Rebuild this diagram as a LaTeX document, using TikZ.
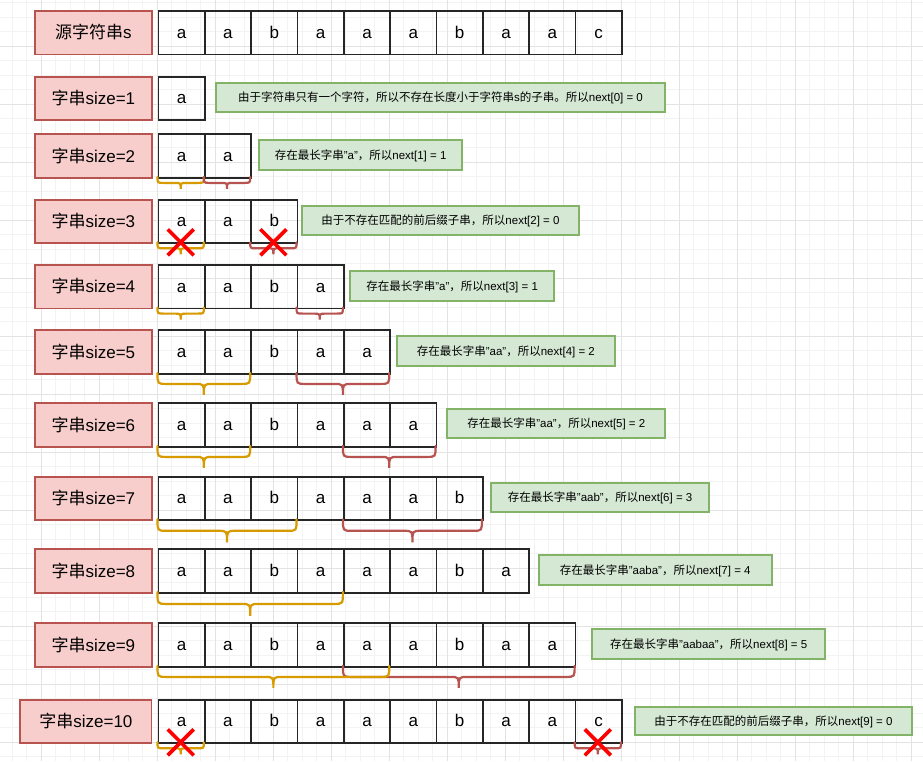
\documentclass[tikz,border=0pt]{standalone}
\usepackage{fontspec}
\setmainfont{Liberation Sans}
\newfontfamily\cjk{Noto Sans CJK SC}
\definecolor{labfill}{HTML}{F8CECC}
\definecolor{labline}{HTML}{B85450}
\definecolor{notefill}{HTML}{D5E8D4}
\definecolor{noteline}{HTML}{82B366}
\definecolor{bro}{HTML}{D79B00}
\definecolor{brr}{HTML}{B85450}
\definecolor{gmin}{HTML}{F3F3F3}
\definecolor{gmaj}{HTML}{E3E3E3}
\tikzset{
 cellbox/.style={draw=black!85, line width=1.8pt, minimum width=46.35pt, minimum height=43.6pt, inner sep=0pt, text height=10.8pt, text depth=0pt, anchor=north west, font=\fontsize{17}{17}\selectfont},
 labbox/.style={draw=labline, fill=labfill, line width=1.8pt, minimum height=43.6pt, inner sep=0pt, text height=12pt, text depth=0pt, anchor=north west, font=\fontsize{17}{17}\selectfont},
 notebox/.style={draw=noteline, fill=notefill, line width=1.8pt, inner sep=0pt, text height=8.5pt, text depth=0pt, font=\fontsize{11.5}{11.5}\selectfont},
 obrace/.style={draw=bro, line width=2.2pt, line cap=round},
 rbrace/.style={draw=brr, line width=2.2pt, line cap=round},
 xmk/.style={draw=red, line width=3.6pt},
 gridminor/.style={draw=gmin, line width=0.9pt},
 gridmajor/.style={draw=gmaj, line width=1pt}
}
\newcommand\nbox[6]{\node[notebox, minimum width={(#4)-(#2)}, minimum height={(#5)-(#3)}] (#1) at ({((#2)+(#4))/2},{((#3)+(#5))/2}) {#6};}
\newcommand\curly[6]{%
 \pgfmathsetmacro\bxa{157.5+46.35*(#3-1)}%
 \pgfmathsetmacro\bxb{157.5+46.35*#4}%
 \pgfmathsetmacro\bxm{(\bxa+\bxb)/2}%
 \pgfmathsetmacro\bya{#2+43.6}%
 \pgfmathsetmacro\byb{\bya+#5/2}%
 \pgfmathsetmacro\byc{\bya+#5}%
 \draw[#1] (\bxa,\bya) .. controls (\bxa,\byb) .. ({\bxa+#6},\byb) -- ({\bxm-#6},\byb) .. controls (\bxm,\byb) .. (\bxm,\byc) .. controls (\bxm,\byb) .. ({\bxm+#6},\byb) -- ({\bxb-#6},\byb) .. controls (\bxb,\byb) .. (\bxb,\bya);
}
\newcommand\xmark[2]{\draw[xmk] ({#1-13},{#2-13}) -- ({#1+13},{#2+13}) ({#1-13},{#2+13}) -- ({#1+13},{#2-13});}
\begin{document}
\begin{tikzpicture}[x=1pt,y=-1pt]
\useasboundingbox (0,0) rectangle (923,761);
\fill[white] (0,0) rectangle (923,761);
% grid
\foreach \i in {0,...,63} {\pgfmathsetmacro\gx{12.3+14.5*\i}\draw[gridminor] (\gx,0) -- (\gx,761);}
\foreach \i in {0,...,52} {\pgfmathsetmacro\gy{2.8+14.5*\i}\draw[gridminor] (0,\gy) -- (923,\gy);}
\foreach \i in {0,...,15} {\pgfmathsetmacro\gx{41.3+58*\i}\draw[gridmajor] (\gx,0) -- (\gx,761);}
\foreach \i in {0,...,12} {\pgfmathsetmacro\gy{46.3+58*\i}\draw[gridmajor] (0,\gy) -- (923,\gy);}
% cells
\foreach \r/\t/\s in {0/10/{a,a,b,a,a,a,b,a,a,c},1/75.7/{a},2/133.3/{a,a},3/198.7/{a,a,b},4/264/{a,a,b,a},5/329.3/{a,a,b,a,a},6/402.3/{a,a,b,a,a,a},7/475.7/{a,a,b,a,a,a,b},8/548.3/{a,a,b,a,a,a,b,a},9/622.3/{a,a,b,a,a,a,b,a,a},10/698.7/{a,a,b,a,a,a,b,a,a,c}}{
  \foreach [count=\c] \ch in \s {
    \node[cellbox] (c\r-\c) at ({157.5+46.35*(\c-1)},\t) {\ch};
  }
}
% labels
\node[labbox, minimum width=117pt] (L0) at (34,10) {{\cjk 源字符串}s};
\foreach \r/\t in {1/75.7,2/133.3,3/198.7,4/264,5/329.3,6/402.3,7/475.7,8/548.3,9/622.3}{
  \node[labbox, minimum width=117pt] (L\r) at (34,\t) {{\cjk 字串}size=\r};
}
\node[labbox, minimum width=131.2pt] (L10) at (19.4,698.7) {{\cjk 字串}size=10};
% notes
\nbox{N1}{215.7}{82.7}{665.3}{112}{{\cjk 由于字符串只有一个字符，所以不存在长度小于字符串}s{\cjk 的子串。所以}next[0] = 0}
\nbox{N2}{259}{140.3}{462.3}{170}{{\cjk 存在最长字串}"a"{\cjk ，所以}next[1] = 1}
\nbox{N3}{302.3}{205.7}{578.7}{235}{{\cjk 由于不存在匹配的前后缀子串，所以}next[2] = 0}
\nbox{N4}{350.3}{271}{554}{300.7}{{\cjk 存在最长字串}"a"{\cjk ，所以}next[3] = 1}
\nbox{N5}{396.7}{336.3}{615}{366}{{\cjk 存在最长字串}"aa"{\cjk ，所以}next[4] = 2}
\nbox{N6}{447.3}{409}{665.3}{438.3}{{\cjk 存在最长字串}"aa"{\cjk ，所以}next[5] = 2}
\nbox{N7}{491}{482.7}{709.3}{512.3}{{\cjk 存在最长字串}"aab"{\cjk ，所以}next[6] = 3}
\nbox{N8}{538.7}{555.3}{771.7}{585}{{\cjk 存在最长字串}"aaba"{\cjk ，所以}next[7] = 4}
\nbox{N9}{592.3}{629.3}{825}{658.7}{{\cjk 存在最长字串}"aabaa"{\cjk ，所以}next[8] = 5}
\nbox{N10}{635}{706.7}{912}{735.3}{{\cjk 由于不存在匹配的前后缀子串，所以}next[9] = 0}
% braces
\curly{obrace}{133.3}{1}{1}{12}{6}
\curly{rbrace}{133.3}{2}{2}{12}{6}
\curly{obrace}{198.7}{1}{1}{12}{6}
\curly{rbrace}{198.7}{3}{3}{12}{6}
\curly{obrace}{264}{1}{1}{12}{6}
\curly{rbrace}{264}{4}{4}{12}{6}
\curly{obrace}{329.3}{1}{2}{22}{9}
\curly{rbrace}{329.3}{4}{5}{22}{9}
\curly{obrace}{402.3}{1}{2}{22}{9}
\curly{rbrace}{402.3}{5}{6}{22}{9}
\curly{obrace}{475.7}{1}{3}{23}{9}
\curly{rbrace}{475.7}{5}{7}{23}{9}
\curly{obrace}{548.3}{1}{4}{24}{9}
\curly{rbrace}{622.3}{5}{9}{22}{9}
\curly{obrace}{622.3}{1}{5}{22}{9}
\curly{obrace}{698.7}{1}{1}{12}{6}
\curly{rbrace}{698.7}{10}{10}{12}{6}
% crosses
\xmark{180.7}{242.3}
\xmark{273.4}{242.3}
\xmark{180.7}{742.3}
\xmark{597.8}{742.3}
\end{tikzpicture}
\end{document}
